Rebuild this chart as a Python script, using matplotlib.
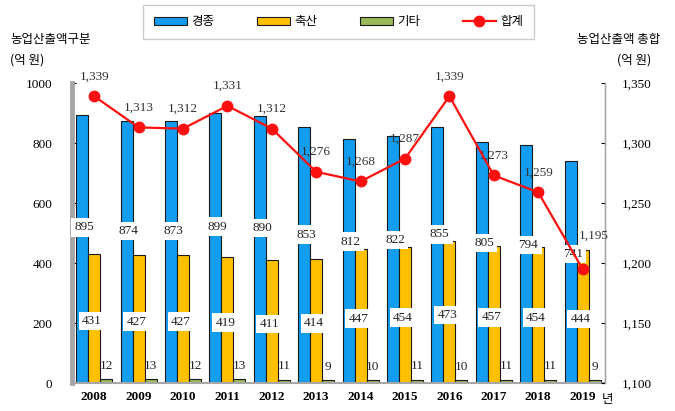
import matplotlib.pyplot as plt
import matplotlib.ticker as mticker
import numpy as np

plt.rcParams['font.family'] = ['Liberation Serif', 'Noto Sans CJK KR', 'DejaVu Sans']

# 농업산출액 (억 원)
years = ["2008", "2009", "2010", "2011", "2012", "2013",
         "2014", "2015", "2016", "2017", "2018", "2019"]
crops = [895, 874, 873, 899, 890, 853, 812, 822, 855, 805, 794, 741]      # 경종
livestock = [431, 427, 427, 419, 411, 414, 447, 454, 473, 457, 454, 444]  # 축산
others = [12, 13, 12, 13, 11, 9, 10, 11, 10, 11, 11, 9]                   # 기타
total = [1339, 1313, 1312, 1331, 1312, 1276, 1268, 1287, 1339, 1273, 1259, 1195]  # 합계

blue = "#129df0"
yellow = "#ffc000"
green = "#9bbb59"
red = "#ff1010"

x = np.arange(len(years))
w = 0.27

fig = plt.figure(figsize=(6.75, 4.11), dpi=100)
ax = fig.add_axes([0.1067, 0.068, 0.7893, 0.730])
ax2 = ax.twinx()

b1 = ax.bar(x - w, crops, w, color=blue, edgecolor="#1a1a1a", linewidth=0.8, label="경종")
b2 = ax.bar(x, livestock, w, color=yellow, edgecolor="#1a1a1a", linewidth=0.8, label="축산")
b3 = ax.bar(x + w, others, w, color=green, edgecolor="#1a1a1a", linewidth=0.8, label="기타")

box = dict(boxstyle="square,pad=0.25", fc="white", ec="none")
for i in range(len(years)):
    ax.text(x[i] - w + 0.05, crops[i] * 0.58, str(crops[i]), ha="center", va="center",
            fontsize=9.5, bbox=box, zorder=5, color="#222222")
    ax.text(x[i] - 0.05, livestock[i] * 0.48, str(livestock[i]), ha="center", va="center",
            fontsize=9.5, bbox=box, zorder=5, color="#222222")
    ax.text(x[i] + w, others[i] + 45, str(others[i]), ha="center", va="center",
            fontsize=9.5, zorder=5, color="#222222")

ax.set_xlim(-0.5, len(years) - 0.5)
ax.set_ylim(0, 1000)
ax.set_yticks(range(0, 1001, 200))
ax.set_xticks(x)
ax.set_xticklabels(years, fontsize=9.5, fontweight="bold")
ax.annotate("년", xy=(x[-1], 0), xycoords=("data", "axes fraction"),
            xytext=(14, -12), textcoords="offset points", fontsize=9, va="center")
ax.tick_params(axis="y", direction="in", length=3, labelsize=9.5, pad=14)
ax.tick_params(axis="x", length=0, pad=6)

ln, = ax2.plot(x, total, color=red, lw=1.6, marker="o", markersize=7.5, label="합계", zorder=4)
for i in range(len(years)):
    off = (8, 20) if i == len(years) - 1 else (0, 10)
    ax2.annotate(f"{total[i]:,}", (x[i], total[i]), xytext=off, textcoords="offset points",
                 ha="center", va="bottom", fontsize=9.5, color="#333333")
ax2.set_ylim(1100, 1350)
ax2.set_yticks(range(1100, 1351, 50))
ax2.yaxis.set_major_formatter(mticker.FuncFormatter(lambda v, p: f"{int(v):,}"))
ax2.tick_params(axis="y", direction="in", length=3, labelsize=9.5, pad=12)

for a in (ax, ax2):
    a.spines["top"].set_visible(False)
ax.spines["left"].set_color("#a6a6a6")
ax.spines["left"].set_linewidth(3.5)
ax.spines["bottom"].set_color("#a6a6a6")
ax.spines["bottom"].set_linewidth(1.5)
ax2.spines["left"].set_visible(False)
ax2.spines["bottom"].set_visible(False)
ax2.spines["right"].set_color("#a6a6a6")
ax2.spines["right"].set_linewidth(1)

fig.legend(handles=[b1, b2, b3, ln], loc="center", bbox_to_anchor=(0.502, 0.947),
           ncol=4, frameon=True, fancybox=False, edgecolor="#bfbfbf",
           handlelength=2.6, handleheight=0.6, handletextpad=0.4, columnspacing=3.4,
           borderpad=0.85, prop={"family": "Noto Sans CJK KR", "size": 9})

fig.text(0.015, 0.905, "농업산출액구분", fontsize=9, family="Noto Sans CJK KR", va="center")
fig.text(0.015, 0.855, "(억 원)", fontsize=9, family="Noto Sans CJK KR", va="center")
fig.text(0.978, 0.905, "농업산출액 총합", fontsize=9, family="Noto Sans CJK KR", va="center", ha="right")
fig.text(0.965, 0.855, "(억 원)", fontsize=9, family="Noto Sans CJK KR", va="center", ha="right")

fig.savefig("out.png", dpi=100)
